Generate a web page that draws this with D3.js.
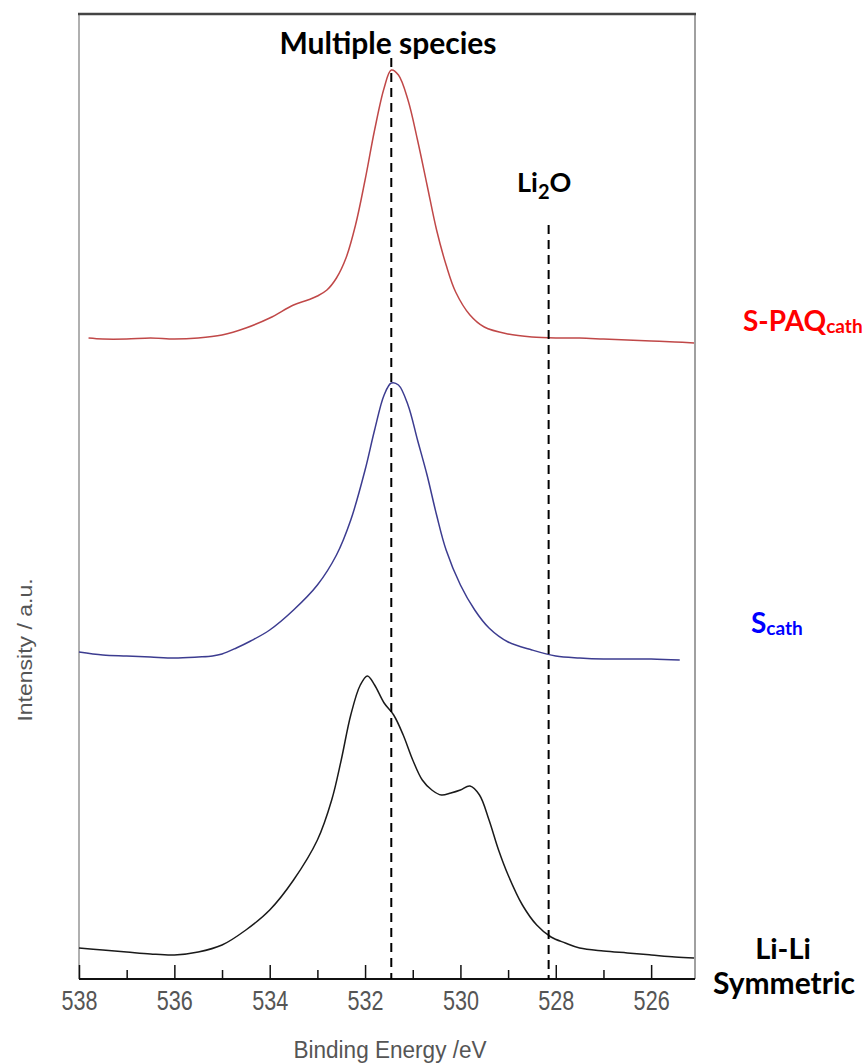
<!DOCTYPE html>
<html><head><meta charset="utf-8">
<script src="https://cdn.jsdelivr.net/npm/d3@7/dist/d3.min.js"></script>
<style>body{margin:0;background:#fff}svg{display:block}</style>
</head><body><svg id="c" width="865" height="1063"></svg>
<script>
// Binding energy (eV) and intensity (a.u.)
const redE = [537.8,537.5,537,536.5,536,535.5,535,534.5,534,533.5,533.2,533,532.8,532.6,532.4,532.2,532.0,531.8,531.6,531.45,531.3,531.1,530.9,530.7,530.5,530.3,530.1,529.8,529.5,529,528.5,528,527.5,527,526.5,526,525.5,525.1];
const redI = [641,640,640,641,640,641,644,651,661,674,679,683,689,701,721,754,799,849,891,909,904,879,839,794,749,714,687,664,652,645,642,641,641,640,639,638,637,636];
const blueE = [538,537.5,537,536.5,536,535.5,535.2,535,534.7,534.4,534,533.5,533,532.6,532.3,532.0,531.8,531.6,531.45,531.3,531.1,530.9,530.7,530.5,530.3,530,529.7,529.4,529,528.5,528,527.5,527,526,525.4];
const blueI = [327,324,323,322,321,322,323,325,331,338,349,369,394,424,459,509,549,584,596,594,574,539,504,464,429,394,369,351,337,329,323,321,320,320,319];
const blackE = [538,537.5,537,536.5,536,535.5,535,534.5,534,533.5,533,532.7,532.5,532.3,532.1,531.95,531.8,531.6,531.4,531.2,531.0,530.8,530.6,530.4,530.2,530.0,529.8,529.6,529.4,529.2,529.0,528.7,528.4,528.1,527.8,527.5,527,526.5,526,525.5,525.1];
const blackI = [31,29,27,25,24,27,34,49,69,99,139,179,219,264,294,303,294,276,264,244,219,199,189,184,186,189,193,184,159,129,104,74,54,42,36,31,28,26,24,22,21];
const xTicksMajor = [538,536,534,532,530,528,526];
const xTicksMinor = [537,535,533,531,529,527];
const markerE = [531.45, 528.15];
const markerTop = [921, 754];

const svg = d3.select("#c");
const L=79,R=695,T=14,B=979;
const x = d3.scaleLinear().domain([538,525.08]).range([L,R]);
const y = d3.scaleLinear().domain([0,965]).range([B,T]);

// frame
svg.append("line").attr("x1",L).attr("x2",L).attr("y1",T).attr("y2",B).attr("stroke","#b0b0b0").attr("stroke-width",2);
svg.append("line").attr("x1",R).attr("x2",R).attr("y1",T).attr("y2",B).attr("stroke","#a0a0a0").attr("stroke-width",2);
svg.append("line").attr("x1",L-1).attr("x2",R+1).attr("y1",T).attr("y2",T).attr("stroke","#444").attr("stroke-width",2.5);

// x axis
const ax = svg.append("g").attr("transform",`translate(0,${B})`);
ax.call(d3.axisBottom(x).tickValues(xTicksMajor).tickSize(-14).tickFormat(d3.format("d")));
ax.select(".domain").attr("stroke","#111").attr("stroke-width",2).attr("d",`M${L},0H${R}`);
ax.selectAll(".tick line").attr("stroke","#111").attr("stroke-width",1.5);
ax.selectAll(".tick text").attr("fill","#555").attr("font-family","'Liberation Sans',Arial,sans-serif")
  .attr("font-size",27).attr("dy",null).attr("y",31).attr("transform","scale(0.8,1)");
const axm = svg.append("g").attr("transform",`translate(0,${B})`);
axm.call(d3.axisBottom(x).tickValues(xTicksMinor).tickSize(-9).tickFormat(""));
axm.select(".domain").remove();
axm.selectAll(".tick line").attr("stroke","#111").attr("stroke-width",1.5);

// curves
const line = d3.line().x(d=>x(d[0])).y(d=>y(d[1])).curve(d3.curveCatmullRom);
function draw(E,I,color){
  svg.append("path").datum(E.map((e,i)=>[e,I[i]])).attr("d",line).attr("fill","none").attr("stroke",color).attr("stroke-width",1.5);
}
draw(redE,redI,"#c04848");
draw(blueE,blueI,"#3c3c90");
draw(blackE,blackI,"#1a1a1a");

// dashed markers
markerE.forEach((e,i)=>{
  svg.append("line").attr("x1",x(e)).attr("x2",x(e)).attr("y1",y(markerTop[i])).attr("y2",B)
    .attr("stroke","#000").attr("stroke-width",2).attr("stroke-dasharray","9,6");
});

const bold = "Lato,'Open Sans',sans-serif";
function t(xp,yp,size,color,anchor){
  return svg.append("text").attr("x",xp).attr("y",yp).attr("text-anchor",anchor||"start")
    .attr("font-family",bold).attr("font-weight","bold").attr("font-size",size).attr("fill",color);
}
t(388,54,30,"#000","middle").text("Multiple species");
const li = t(517,192,27,"#000");
li.append("tspan").text("Li");
li.append("tspan").attr("font-size",20).attr("dy",7).text("2");
li.append("tspan").attr("dy",-7).text("O");

const sp = t(743,331,28,"#ff0000");
sp.append("tspan").text("S-PAQ");
sp.append("tspan").attr("font-size",19).attr("dy",2).text("cath");
const sc = t(751,633,28,"#0000ff");
sc.append("tspan").text("S");
sc.append("tspan").attr("font-size",19).attr("dy",2).text("cath");

t(783,959,29,"#000","middle").text("Li-Li");
t(784,994,30,"#000","middle").text("Symmetric");

svg.append("text").attr("transform","translate(390,1058) scale(0.94,1)").attr("text-anchor","middle").attr("font-family","'Liberation Sans',Arial,sans-serif").attr("font-size",24).attr("fill","#555").text("Binding Energy /eV");
svg.append("text").attr("transform","translate(32,650) rotate(-90) scale(1.15,1)").attr("text-anchor","middle").attr("font-family","'Liberation Sans',Arial,sans-serif").attr("font-size",20).attr("fill","#555").text("Intensity / a.u.");
</script></body></html>
